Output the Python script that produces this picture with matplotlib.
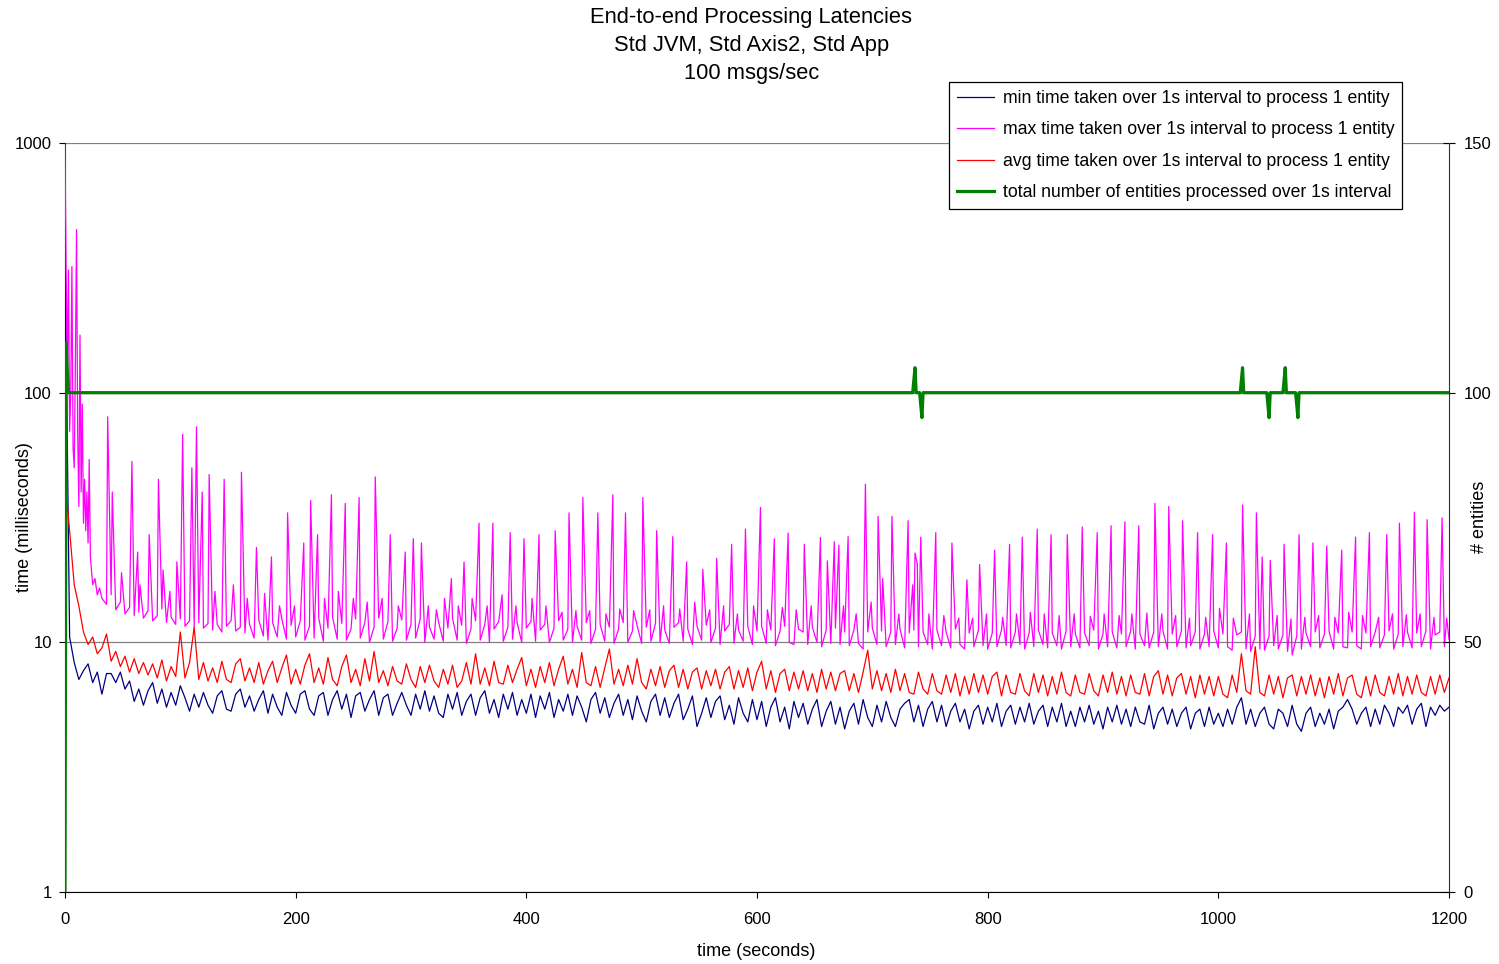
#!/usr/bin/env python3
"""
End-to-end processing latencies (min/max/avg per 1 s) and entities per second.
"""

import numpy as np
import matplotlib
matplotlib.use('Agg')
import matplotlib.pyplot as plt
from matplotlib.ticker import FixedLocator, FixedFormatter, NullLocator

plt.rcParams['font.family'] = ['Liberation Sans', 'DejaVu Sans']

# ---- data ----
# samples every 4 s, t = 0..1200
t_step = 4

min_ms = [
    380, 10.5, 8.3, 7.1, 7.7, 8.2, 6.9, 7.6, 6.2, 7.5,
    7.5, 6.9, 7.6, 6.5, 7.0, 5.8, 6.5, 5.6, 6.4, 6.9,
    5.7, 6.5, 5.5, 6.3, 5.6, 6.7, 6.0, 5.3, 6.2, 5.5,
    6.3, 5.6, 5.2, 6.1, 6.4, 5.4, 5.3, 6.2, 6.5, 5.5,
    6.1, 5.3, 5.9, 6.4, 5.2, 6.2, 5.5, 5.1, 6.3, 5.6,
    5.2, 6.2, 6.4, 5.4, 5.1, 6.1, 6.3, 5.1, 5.9, 6.4,
    5.4, 6.2, 5.0, 6.1, 6.3, 5.3, 5.9, 6.4, 5.1, 6.0,
    6.2, 5.1, 5.7, 6.3, 5.6, 5.1, 6.2, 5.4, 6.4, 5.3,
    6.1, 5.2, 5.0, 6.2, 5.4, 6.3, 5.1, 5.8, 6.2, 5.1,
    6.0, 6.4, 5.2, 5.9, 5.0, 6.2, 5.4, 6.3, 5.1, 5.9,
    5.2, 6.2, 5.0, 6.1, 5.4, 6.3, 5.0, 5.9, 5.3, 6.2,
    5.1, 6.1, 5.5, 4.8, 5.9, 6.3, 5.2, 6.0, 5.0, 5.7,
    6.2, 5.1, 5.9, 4.9, 6.1, 5.3, 4.8, 5.8, 6.2, 5.1,
    6.0, 5.0, 5.7, 6.2, 4.9, 5.4, 6.1, 4.6, 5.2, 6.0,
    5.0, 5.8, 6.1, 4.9, 5.6, 4.7, 6.0, 5.2, 4.8, 5.9,
    4.9, 5.8, 4.6, 5.5, 6.0, 4.8, 5.5, 4.5, 5.8, 5.0,
    5.7, 4.7, 5.4, 5.9, 4.6, 5.3, 5.8, 4.7, 5.5, 4.5,
    5.3, 5.7, 4.7, 5.9, 5.0, 4.6, 5.6, 4.8, 5.8, 5.0,
    4.6, 5.4, 5.7, 5.9, 4.8, 5.6, 4.6, 5.4, 5.8, 4.8,
    5.6, 4.6, 5.3, 5.7, 4.8, 5.4, 4.5, 5.3, 5.6, 4.7,
    5.5, 4.8, 5.7, 4.6, 5.3, 5.6, 4.7, 5.5, 4.8, 5.7,
    4.7, 5.3, 5.6, 4.6, 5.5, 4.8, 5.7, 4.6, 5.3, 4.6,
    5.5, 4.8, 5.6, 4.7, 5.3, 4.5, 5.5, 4.8, 5.6, 4.7,
    5.4, 4.6, 5.5, 4.8, 4.7, 5.6, 4.5, 5.2, 5.5, 4.7,
    5.4, 4.6, 5.2, 5.5, 4.5, 5.2, 5.4, 4.6, 5.5, 4.7,
    5.2, 4.6, 5.4, 4.7, 5.5, 6.0, 4.7, 5.4, 4.6, 5.2,
    5.5, 4.7, 4.5, 5.4, 5.2, 4.6, 5.6, 4.7, 4.4, 5.2,
    5.5, 4.6, 5.2, 4.7, 5.4, 4.5, 5.3, 5.5, 5.9, 5.4,
    4.7, 5.2, 5.5, 4.6, 5.4, 4.7, 5.6, 5.2, 4.6, 5.5,
    5.2, 5.6, 4.7, 5.4, 5.7, 4.6, 5.5, 5.1, 5.6, 5.3,
    5.5,
]

avg_ms = [
    45, 28, 17, 14, 11, 9.8, 10.5, 9.0, 9.5, 10.8,
    8.4, 9.2, 8.0, 8.8, 7.6, 8.6, 7.5, 8.3, 7.4, 8.2,
    7.2, 8.5, 7.0, 8.0, 7.3, 11.0, 7.2, 8.3, 11.5, 7.1,
    8.3, 7.0, 7.9, 6.9, 8.4, 7.1, 6.9, 8.2, 8.6, 7.0,
    7.9, 6.9, 8.3, 6.8, 7.7, 8.4, 6.9, 7.9, 8.9, 6.8,
    7.8, 6.8, 8.1, 9.0, 6.9, 7.9, 6.8, 8.7, 7.1, 6.7,
    8.0, 8.9, 6.9, 7.8, 6.7, 8.6, 7.0, 9.2, 6.9, 7.7,
    6.7, 8.0, 7.0, 6.8, 8.2, 7.1, 6.6, 8.0, 6.9, 8.1,
    7.0, 6.6, 7.8, 6.8, 8.1, 6.6, 7.0, 8.3, 6.8, 9.0,
    6.8, 7.9, 6.7, 8.4, 6.9, 6.8, 8.1, 6.9, 7.8, 8.7,
    6.7, 7.8, 6.6, 8.0, 6.9, 8.3, 6.7, 7.8, 8.8, 6.8,
    7.8, 6.6, 9.1, 6.9, 6.7, 8.0, 6.6, 7.9, 9.4, 6.8,
    7.8, 6.7, 8.1, 6.8, 8.6, 6.9, 6.5, 7.8, 6.7, 8.0,
    6.6, 7.7, 8.1, 6.6, 7.8, 6.5, 7.6, 7.9, 6.5, 7.7,
    6.7, 7.8, 6.5, 7.6, 8.0, 6.5, 7.7, 6.6, 7.9, 6.4,
    7.6, 8.4, 6.5, 7.7, 6.3, 7.5, 7.8, 6.4, 7.6, 6.5,
    7.7, 6.4, 7.5, 6.3, 7.8, 6.5, 7.6, 6.4, 7.5, 7.7,
    6.4, 7.5, 6.3, 7.6, 9.3, 6.5, 7.7, 6.4, 7.5, 6.3,
    7.8, 6.4, 7.5, 6.3, 6.2, 7.6, 6.5, 6.2, 7.5, 6.4,
    6.2, 7.4, 6.3, 7.5, 6.1, 7.3, 6.2, 7.5, 6.3, 7.4,
    6.2, 7.3, 7.6, 6.1, 7.4, 6.3, 6.2, 7.5, 6.4, 6.1,
    7.5, 6.3, 7.4, 6.1, 7.3, 6.2, 7.6, 6.3, 6.1, 7.4,
    6.3, 6.2, 7.5, 6.4, 6.1, 7.4, 6.3, 7.6, 6.2, 7.3,
    6.1, 7.4, 6.3, 6.2, 7.5, 6.1, 7.3, 7.7, 6.2, 7.4,
    6.1, 7.2, 7.5, 6.2, 7.3, 6.0, 7.4, 6.2, 7.3, 6.1,
    7.3, 6.2, 6.0, 7.4, 6.3, 9.0, 6.4, 6.2, 9.6, 6.3,
    6.1, 7.4, 6.2, 7.3, 6.0, 7.2, 7.4, 6.1, 7.3, 6.2,
    7.4, 6.1, 7.2, 6.0, 7.3, 6.2, 7.5, 6.1, 7.2, 7.4,
    6.2, 6.0, 7.3, 6.1, 7.4, 6.3, 6.1, 7.3, 6.2, 7.5,
    6.1, 7.3, 6.2, 7.4, 6.3, 6.1, 7.3, 6.2, 7.4, 6.3,
    7.2,
]

# max: level between the spikes (every 4 s) ...
max_base_ms = [
    1000, 70, 50, 35, 30, 25, 17, 15.5, 15.0, 14.2,
    15.5, 13.5, 14.5, 13.0, 13.8, 12.8, 13.2, 12.5, 13.4, 12.2,
    12.8, 13.6, 12.0, 12.6, 11.8, 12.4, 11.6, 12.2, 11.5, 12.0,
    11.4, 11.9, 11.2, 11.8, 11.0, 11.6, 12.2, 11.1, 11.5, 10.9,
    11.8, 10.4, 12.3, 10.6, 10.2, 12.0, 10.5, 12.4, 10.3, 11.7,
    10.5, 12.2, 10.2, 11.6, 10.4, 12.5, 10.1, 11.4, 12.6, 10.3,
    11.9, 10.2, 11.3, 12.4, 10.4, 12.0, 10.0, 11.5, 12.5, 10.3,
    12.1, 10.1, 11.4, 12.3, 10.2, 11.8, 10.4, 12.4, 10.0, 11.5,
    10.3, 12.0, 10.1, 11.4, 12.5, 10.2, 11.7, 9.9, 11.3, 12.2,
    10.2, 11.8, 10.0, 11.3, 12.1, 10.1, 11.5, 10.3, 12.0, 10.0,
    11.4, 12.1, 10.1, 11.2, 11.8, 10.0, 11.4, 12.2, 10.2, 11.3,
    10.0, 11.6, 10.2, 12.0, 9.9, 11.3, 11.8, 10.1, 11.5, 9.9,
    11.3, 12.0, 10.0, 11.1, 11.7, 9.9, 11.5, 10.1, 11.9, 10.0,
    11.2, 9.9, 11.5, 12.0, 10.1, 11.3, 9.8, 11.6, 10.2, 11.7,
    10.0, 11.4, 9.8, 11.1, 11.8, 9.9, 11.2, 10.1, 11.6, 9.8,
    11.1, 11.6, 9.9, 11.2, 9.7, 11.1, 11.6, 10.0, 9.8, 11.3,
    11.0, 9.8, 11.5, 10.0, 9.6, 11.2, 9.9, 11.4, 9.8, 11.0,
    9.7, 11.2, 9.9, 9.4, 11.0, 11.4, 9.8, 11.1, 9.6, 11.0,
    9.8, 11.3, 9.5, 10.9, 11.2, 9.6, 11.0, 9.8, 9.4, 11.2,
    9.7, 11.0, 9.5, 11.3, 9.8, 9.4, 10.9, 9.6, 11.2, 9.7,
    9.4, 10.9, 9.6, 11.2, 9.7, 9.5, 11.0, 9.8, 9.4, 10.9,
    9.6, 11.2, 9.8, 9.5, 10.9, 9.7, 9.4, 11.1, 9.6, 10.8,
    9.5, 10.9, 9.7, 11.2, 9.4, 10.8, 9.6, 11.0, 9.5, 10.8,
    9.6, 11.1, 9.4, 10.8, 9.7, 9.5, 11.0, 9.6, 11.1, 9.4,
    10.8, 9.6, 11.1, 9.5, 9.7, 11.0, 9.4, 10.8, 9.6, 11.1,
    9.5, 10.8, 9.6, 9.3, 10.7, 11.0, 9.4, 9.2, 10.6, 9.4,
    9.3, 10.6, 9.7, 9.4, 10.7, 9.2, 8.9, 10.6, 9.4, 10.9,
    9.6, 11.0, 9.5, 10.8, 11.1, 9.4, 10.9, 9.6, 9.5, 11.0,
    9.7, 9.4, 10.9, 9.6, 11.0, 9.5, 10.7, 11.1, 9.4, 10.8,
    9.6, 11.0, 9.5, 10.9, 9.6, 11.1, 9.4, 10.7, 11.0, 9.6,
    10.3,
]

# ... and the single-second peaks on top of it
spike_t = [
    1, 2, 3, 5, 6, 7, 9, 10, 11, 13, 14, 15, 17, 18, 19, 21, 22, 26, 30,
    37, 41, 49, 58, 63, 65, 73, 81, 85, 91, 97, 102, 110, 114, 119, 125, 130, 138, 146, 153, 158,
    166, 173, 179, 186, 193, 199, 207, 213, 219, 225, 231, 237, 243, 250, 255, 262, 269, 275, 282, 289,
    295, 302, 309, 315, 322, 329, 335, 341, 346, 353, 359, 366, 371, 379, 386, 391, 398, 405, 411, 417,
    425, 431, 437, 443, 449, 455, 462, 469, 475, 481, 486, 493, 501, 507, 513, 519, 527, 533, 539, 546,
    553, 559, 565, 571, 578, 583, 590, 597, 603, 609, 615, 622, 627, 634, 641, 647, 655, 661, 667, 671,
    675, 679, 686, 694, 699, 705, 709, 717, 723, 731, 735, 737, 739, 742, 749, 755, 762, 769, 775, 782,
    787, 793, 799, 806, 813, 819, 825, 830, 837, 843, 849, 855, 862, 869, 875, 882, 889, 895, 901, 907,
    914, 919, 925, 931, 938, 945, 951, 957, 963, 969, 975, 982, 989, 995, 1001, 1007, 1013, 1021, 1027, 1033,
    1038, 1045, 1051, 1057, 1063, 1070, 1075, 1082, 1087, 1094, 1101, 1107, 1113, 1119, 1125, 1131, 1139, 1146, 1151, 1157,
    1163, 1170, 1175, 1181, 1187, 1194, 1198,
]
spike_ms = [
    300, 120, 310, 100, 320, 60, 130, 450, 70, 170, 40, 90, 45, 28, 40, 54, 22, 18, 16.5,
    80, 40, 19, 53, 23, 17, 27, 45, 19.5, 16, 21, 68, 50, 73, 40, 47, 16, 45, 17, 48, 15,
    24, 15.7, 22, 14, 33, 14, 25, 37, 27, 15, 39, 16, 36, 15, 38, 14.5, 46, 15, 27, 14,
    23, 26, 25, 14, 13.5, 15, 18, 14, 21, 15, 30, 14, 30, 15.5, 27.5, 14, 26, 15, 27, 14,
    28, 13.2, 33, 13.4, 38, 13.4, 33, 13, 39, 13.6, 33, 13.4, 38, 13.5, 28, 14, 26.5, 13.6, 21, 14.5,
    19.6, 13.5, 21.7, 14, 24.7, 13, 28.4, 14, 34.7, 13.5, 26, 13.8, 27.4, 13.5, 24.7, 14, 26.3, 21.2, 25.3, 24.5,
    14, 26.5, 13, 43, 14.5, 32, 18, 32, 13, 30.7, 17, 22.8, 20.6, 26.4, 13, 27.5, 12.8, 25, 12.5, 17.8,
    12.5, 20.5, 13, 23.4, 12.6, 24.7, 13, 26.4, 13.2, 28.4, 13, 27, 12.8, 27, 13, 29, 12.7, 27.5, 13, 29.3,
    12.8, 30.4, 13, 29.3, 13.1, 36, 13, 35, 12.8, 30.7, 12.5, 27.5, 12.6, 27, 13.7, 25, 12.5, 35.5, 13, 33,
    22, 21.3, 12.8, 24.7, 12.4, 27, 12.6, 25, 12.8, 24.3, 12.6, 23.4, 13.2, 26.4, 12.8, 27.5, 12.6, 27, 13, 30,
    12.9, 33.2, 13, 31, 12.6, 31.5, 12.5,
]

# entities processed per second (flat at 100 apart from these points)
entities_t = [0, 1, 2, 3,
              735, 736, 737, 738, 741, 742, 743, 744,
              1019, 1020, 1021, 1022, 1042, 1043, 1044, 1045,
              1056, 1057, 1058, 1059, 1067, 1068, 1069, 1070, 1200]
entities_n = [0, 110, 104, 100,
              100, 102.5, 105, 100, 100, 97.5, 95, 100,
              100, 102.5, 105, 100, 100, 97.5, 95, 100,
              100, 102.5, 105, 100, 100, 97.5, 95, 100, 100]

labels = ['min time taken over 1s interval to process 1 entity',
          'max time taken over 1s interval to process 1 entity',
          'avg time taken over 1s interval to process 1 entity',
          'total number of entities processed over 1s interval']
colors = ['#000080', '#FF00FF', '#FF0000', '#008000']

x_ticks = [0, 200, 400, 600, 800, 1000, 1200]
y_ticks = [1, 10, 100, 1000]
y2_ticks = [0, 50, 100, 150]

# ---- build series ----
t_coarse = np.arange(len(min_ms)) * t_step
t_max = np.concatenate([np.arange(len(max_base_ms)) * t_step, spike_t])
v_max = np.concatenate([max_base_ms, spike_ms])
order = np.argsort(t_max, kind='stable')
t_max, v_max = t_max[order], v_max[order]

# ---- figure ----
W, H = 1499, 964
fig = plt.figure(figsize=(W / 100, H / 100), dpi=100)
fig.patch.set_facecolor('white')
ax = fig.add_axes([65 / W, 72 / H, 1384 / W, 749 / H])
ax.set_facecolor('white')

l_min, = ax.plot(t_coarse, min_ms, color=colors[0], lw=0.9, zorder=3)
l_max, = ax.plot(t_max, v_max, color=colors[1], lw=0.9, zorder=3)
l_avg, = ax.plot(t_coarse, avg_ms, color=colors[2], lw=0.9, zorder=4)

ax.set_yscale('log')
ax.set_ylim(1, 1000)
ax.set_xlim(0, 1200)
ax.yaxis.set_major_locator(FixedLocator(y_ticks))
ax.yaxis.set_major_formatter(FixedFormatter([str(v) for v in y_ticks]))
ax.yaxis.set_minor_locator(NullLocator())
ax.xaxis.set_major_locator(FixedLocator(x_ticks))
ax.xaxis.set_minor_locator(NullLocator())
ax.grid(True, axis='y', which='major', color='#808080', lw=0.9, zorder=0)
ax.set_axisbelow(True)

ax.tick_params(axis='y', direction='out', length=4.5, width=0.8,
               labelsize=12, pad=5, colors='black')
ax.tick_params(axis='x', direction='out', length=4.5, width=0.8,
               labelsize=12, pad=10, colors='black')
for side in ['top', 'right']:
    ax.spines[side].set_visible(False)
for side in ['left', 'bottom']:
    ax.spines[side].set_color('black')
    ax.spines[side].set_linewidth(0.8)

# secondary axis: entities
ax2 = ax.twinx()
l_ent, = ax2.plot(entities_t, entities_n, color=colors[3], lw=2.3, zorder=5)
ax2.set_ylim(0, 150)
ax2.yaxis.set_major_locator(FixedLocator(y2_ticks))
ax2.yaxis.set_minor_locator(NullLocator())
ax2.tick_params(axis='y', direction='inout', length=8, width=0.8,
                labelsize=12, pad=6.5, colors='black')
for side in ['top', 'left', 'bottom']:
    ax2.spines[side].set_visible(False)
ax2.spines['right'].set_color('#303030')
ax2.spines['right'].set_linewidth(0.8)

# titles and axis labels
title_lines = ['End-to-end Processing Latencies', 'Std JVM, Std Axis2, Std App', '100 msgs/sec']
for i, line in enumerate(title_lines):
    fig.text(751.5 / W, 1 - (18 + 28 * i) / H, line, ha='center', va='center',
             fontsize=15.75, color='black')

fig.text(25 / W, 1 - 517 / H, 'time (milliseconds)', rotation=90,
         ha='center', va='center', fontsize=13)
fig.text(1479 / W, 1 - 517 / H, '# entities', rotation=90,
         ha='center', va='center', fontsize=13)
fig.text(756 / W, 1 - 951 / H, 'time (seconds)', ha='center', va='center', fontsize=13)

# legend
leg = fig.legend([l_min, l_max, l_avg, l_ent], labels,
                 loc='upper left', bbox_to_anchor=(949 / W, 1 - 82 / H),
                 fontsize=12.7, frameon=True, fancybox=False, shadow=False,
                 framealpha=1, edgecolor='black', borderpad=0.45,
                 handlelength=2.1, handletextpad=0.5, labelspacing=0.82,
                 borderaxespad=0)
leg.get_frame().set_linewidth(0.9)

fig.savefig('out.png', dpi=100, facecolor='white')
